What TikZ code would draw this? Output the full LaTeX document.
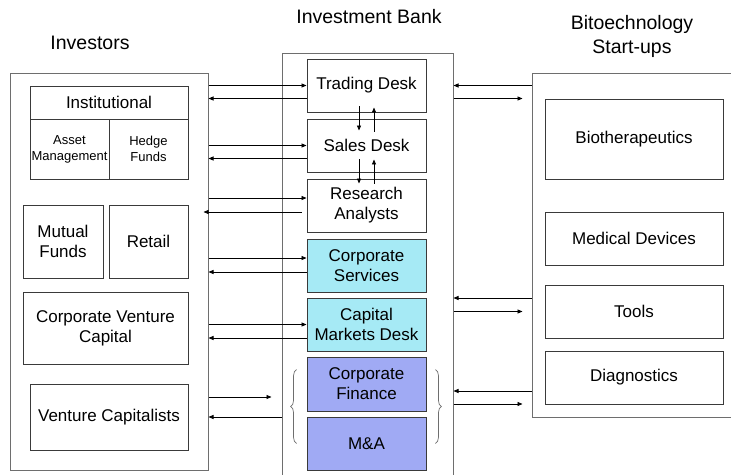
\documentclass[tikz,border=0pt]{standalone}
\usepackage{fontspec}
\setmainfont{Liberation Sans}
\usetikzlibrary{arrows.meta,decorations.pathreplacing}
\definecolor{deskcyan}{HTML}{A6EAF5}
\definecolor{deskblue}{HTML}{A0AAF4}
\definecolor{boxline}{HTML}{3A3A3A}
\definecolor{frameline}{HTML}{6E6E6E}

\begin{document}
\begin{tikzpicture}[x=1pt,y=-1pt,>={Triangle[length=5pt,width=4pt]},
 font=\fontsize{17}{20}\selectfont,
 box/.style={draw=boxline,line width=.9pt,align=center,inner sep=0pt},
 frame/.style={draw=frameline,line width=1pt,inner sep=0pt},
 title/.style={align=center,font=\fontsize{19.5}{24}\selectfont},
 small/.style={font=\fontsize{13}{16}\selectfont},
 desk/.style={box,minimum width=119,minimum height=53},
 startup/.style={box,minimum width=178,minimum height=53},
 brace/.style={decorate,decoration={brace,amplitude=6pt},draw=frameline,line width=.7pt},
 every path/.append style={line width=.8pt}]
\fill[white] (0,0) rectangle (731,474);
\useasboundingbox (0,0) rectangle (731,474);
\node[frame,minimum width=198,minimum height=397] (inv) at (109,271.5) {};
\node[frame,minimum width=171,minimum height=427] (bank) at (367.5,266.5) {};
\node[frame,minimum width=208,minimum height=344] (bio) at (636,245) {};
\node[title] (invT) at (90,43) {Investors};
\node[title] (bankT) at (369,17) {Investment Bank};
\node[title] (bioT) at (632,36) {Bitoechnology\\Start-ups};

\node[box,minimum width=158,minimum height=33] (inst) at (109,102.5) {Institutional};
\node[box,small,minimum width=79,minimum height=60] (asset) at (69.5,149) {Asset\\Management};
\node[box,small,minimum width=79,minimum height=60] (hedge) at (148.5,149) {Hedge\\Funds};
\node[box,minimum width=80,minimum height=73] (mutual) at (63,241.5) {Mutual\\Funds};
\node[box,minimum width=79,minimum height=73] (retail) at (148.5,241.5) {Retail};
\node[box,minimum width=165,minimum height=72] (cvc) at (105.5,328) {Corporate Venture\\Capital};
\node[box,minimum width=158,minimum height=66] (vc) at (109,417) {Venture Capitalists};

\node[desk] (trade) at (366.5,85.5) {Trading Desk};
\node[desk] (sales) at (366.5,145.5) {Sales Desk};
\node[desk] (research) at (366.5,205.5) {Research\\Analysts};
\node[desk,fill=deskcyan] (corpserv) at (366.5,265.5) {Corporate\\Services};
\node[desk,fill=deskcyan] (capmkt) at (366.5,324.5) {Capital\\Markets Desk};
\node[desk,fill=deskblue,minimum height=54] (corpfin) at (366.5,384) {Corporate\\Finance};
\node[desk,fill=deskblue] (ma) at (366.5,443.5) {M\&A};

\node[startup,minimum height=80] (biother) at (634,139) {Biotherapeutics};
\node[startup] (meddev) at (634,238.5) {Medical Devices};
\node[startup] (tools) at (634,311.5) {Tools};
\node[startup] (diag) at (634,377.5) {Diagnostics};

\draw[->] (inv.east |- trade.west) -- (trade.west);
\draw[->] ([yshift=-13pt]trade.west) coordinate (t1) -- (t1 -| inv.east);
\draw[->] (inv.east |- sales.west) -- (sales.west);
\draw[->] ([yshift=-13pt]sales.west) coordinate (s1) -- (s1 -| inv.east);
\draw[->] ([yshift=7.5pt]research.west -| inv.east) -- ([yshift=7.5pt]research.west);
\draw[->] ([xshift=-5pt,yshift=-6.5pt]research.west) coordinate (r1) -- ([xshift=-5pt]r1 -| inv.east);
\draw[->] ([yshift=7.5pt]corpserv.west -| inv.east) -- ([yshift=7.5pt]corpserv.west);
\draw[->] ([yshift=-6.5pt]corpserv.west) coordinate (c1) -- (c1 -| inv.east);
\draw[->] (inv.east |- capmkt.west) -- (capmkt.west);
\draw[->] ([yshift=-13.5pt]capmkt.west) coordinate (m1) -- (m1 -| inv.east);
\draw[->] ([yshift=20pt]vc.east -| inv.east) coordinate (v0) -- ([xshift=-10pt]v0 -| bank.west);
\draw[->] (bank.west |- vc) -- (inv.east |- vc);

\draw[->] ([xshift=-7.5pt,yshift=6pt]trade.south) -- ([xshift=-7.5pt,yshift=-12pt]sales.north);
\draw[->] ([xshift=7.5pt,yshift=-13pt]sales.north) -- ([xshift=7.5pt,yshift=5pt]trade.south);
\draw[->] ([xshift=-7.5pt,yshift=13pt]sales.south) -- ([xshift=-7.5pt,yshift=-5pt]research.north);
\draw[->] ([xshift=7.5pt,yshift=-5pt]research.north) -- ([xshift=7.5pt,yshift=13pt]sales.south);

\draw[->] (bio.west |- trade) -- (bank.east |- trade);
\draw[->] ([yshift=-13pt]bank.east |- trade) coordinate (b1) -- ([xshift=-9pt]b1 -| bio.west);
\draw[->] ([yshift=13.5pt]tools.west -| bio.west) coordinate (b2) -- (b2 -| bank.east);
\draw[->] (bank.east |- tools) -- ([xshift=-9pt]bio.west |- tools);
\draw[->] ([yshift=-7pt]corpfin.east -| bio.west) coordinate (b3) -- (b3 -| bank.east);
\draw[->] ([yshift=-20pt]corpfin.east -| bank.east) coordinate (b4) -- ([xshift=-9pt]b4 -| bio.west);

\draw[brace] ([xshift=-10pt,yshift=27pt]ma.south west) -- ([xshift=-10pt,yshift=-13pt]corpfin.north west);
\draw[brace] ([xshift=9pt,yshift=-13pt]corpfin.north east) -- ([xshift=9pt,yshift=27pt]ma.south east);
\end{tikzpicture}
\end{document}
